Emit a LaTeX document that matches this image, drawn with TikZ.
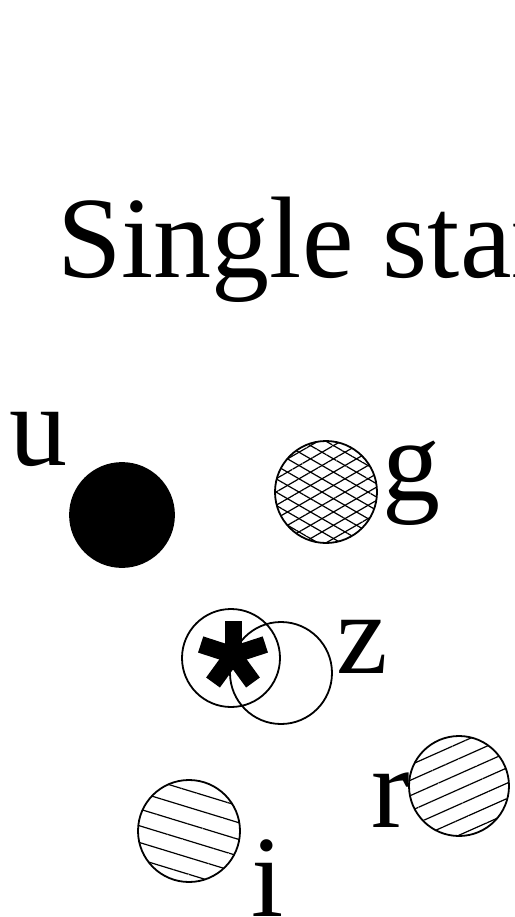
\documentclass[tikz,border=0pt]{standalone}
\usepackage{fontspec}
\setmainfont{LiberationSerif}[Extension=.ttf, UprightFont=*-Regular, BoldFont=*-Bold]
\usetikzlibrary{patterns.meta}
\begin{document}
\begin{tikzpicture}[x=1pt,y=-1pt,
  lbl/.style={font=\fontsize{116}{116}\selectfont, inner sep=0pt, anchor=base west},
  disc/.style={circle, minimum size=102pt, inner sep=0pt, draw=black, line width=1.8pt},
  arm/.style={line width=17pt, line cap=butt},
]
\fill[white] (0,0) rectangle (514,917);
\clip (0,0) rectangle (514,917);
% title
\node[lbl] (title) at (57,277) {Single star};
% u
\node[lbl] (lu) at (9,465) {u};
\node[disc, fill=black, minimum size=104pt] (u) at (122,515) {};
% g
\coordinate (gc) at (326,492);
\fill[pattern={Lines[angle=30, distance=11.5pt, line width=1.2pt]}] (gc) circle[radius=51];
\node[disc, pattern={Lines[angle=-30, distance=11.5pt, line width=1.2pt]}] (g) at (gc) {};
\node[lbl] (lg) at (382,500) {g};
% z
\node[disc, minimum size=98pt] (z1) at (231,658) {};
\node[disc] (z2) at (281,673) {};
\coordinate (ast) at (233,655);
\foreach \a in {-90,-18,54,126,-162} \draw[arm] (ast) -- ++(\a:34);
\node[lbl] (lz) at (336,673) {z};
% r
\node[disc, minimum size=100pt, pattern={Lines[angle=24, distance=14pt, line width=1.2pt]}] (r) at (459,786) {};
\node[lbl] (lr) at (371,827) {r};
% i
\node[disc, pattern={Lines[angle=-17, distance=16pt, line width=1.2pt]}] (i) at (189,831) {};
\node[lbl] (li) at (251,916) {i};
\end{tikzpicture}
\end{document}
